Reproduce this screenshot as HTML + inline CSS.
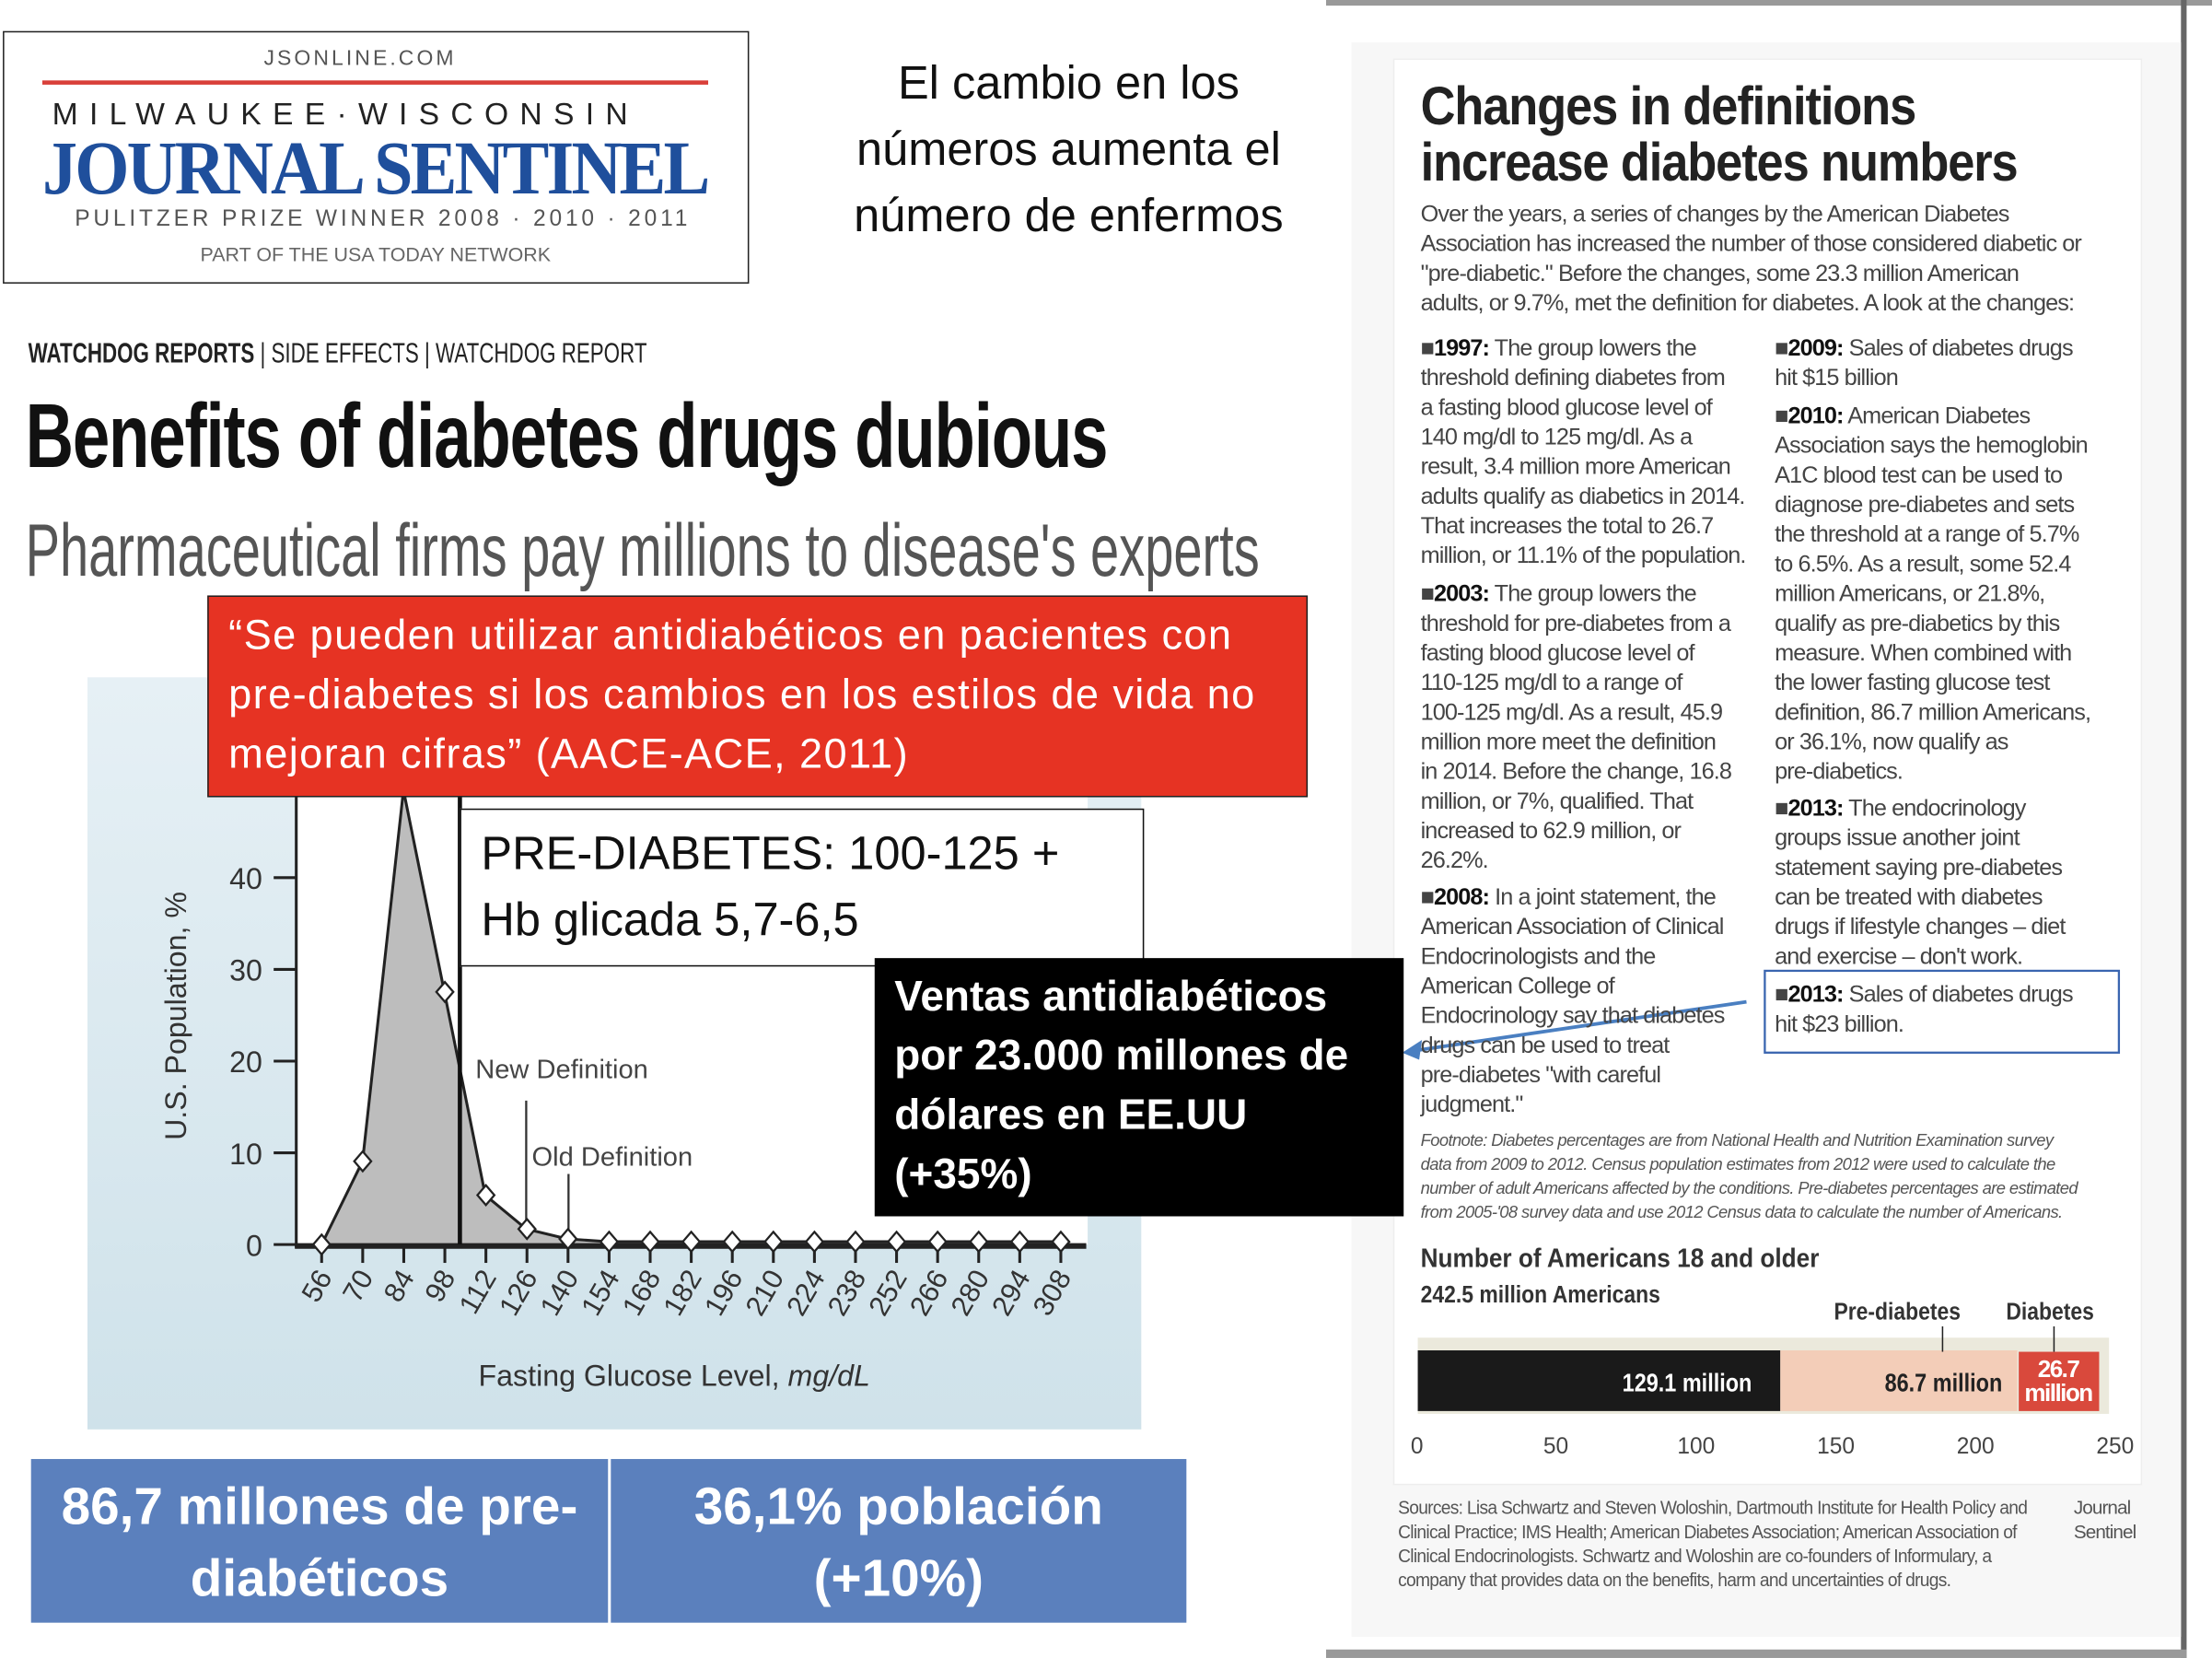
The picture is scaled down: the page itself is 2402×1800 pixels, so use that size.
<!DOCTYPE html>
<html><head><meta charset="utf-8"><style>
*{margin:0;padding:0;box-sizing:border-box}
html,body{width:2402px;height:1800px;overflow:hidden;background:#fff}
#w{position:absolute;left:0;top:0;width:1568px;height:1175px;transform:scale(1.53189);transform-origin:0 0;font-family:"Liberation Sans",sans-serif}
.a{position:absolute;white-space:nowrap}
.n{font-family:"Liberation Sans Narrow","Liberation Sans",sans-serif}
.rt{position:absolute;font-family:"Liberation Sans Narrow","Liberation Sans",sans-serif;font-size:16.5px;line-height:21px;color:#444;letter-spacing:-0.6px}
.rt b{color:#111}
.rt p{margin-top:5.5px}
.rt p:first-child{margin-top:0}
</style></head><body><div id="w">
<!-- logo -->
<div class="a" style="left:2px;top:22px;width:529px;height:179px;border:1px solid #222"></div>
<div class="a" style="left:187px;top:33px;font-size:15px;letter-spacing:2px;color:#555">JSONLINE.COM</div>
<div class="a" style="left:30px;top:57px;width:472px;height:3px;background:#d9403a"></div>
<div class="a" style="left:37px;top:68px;font-size:22px;letter-spacing:8px;color:#222">MILWAUKEE·WISCONSIN</div>
<div class="a" style="left:30px;top:88px;font-family:'Liberation Serif',serif;font-weight:bold;font-size:54px;color:#1f4f9c;letter-spacing:-2px;transform:scaleX(0.92);transform-origin:0 0">JOURNAL SENTINEL</div>
<div class="a" style="left:53px;top:147px;font-size:16px;letter-spacing:2.5px;color:#555">PULITZER PRIZE WINNER 2008 · 2010 · 2011</div>
<div class="a" style="left:142px;top:172px;font-size:14px;color:#666">PART OF THE USA TODAY NETWORK</div>
<!-- spanish title -->
<div class="a" style="left:585px;top:35px;width:345px;text-align:center;font-size:33px;line-height:47px;white-space:normal;color:#111">El cambio en los números aumenta el número de enfermos</div>
<!-- headline -->
<div class="a" style="left:20px;top:240px;font-size:20px;color:#222;transform:scaleX(0.73);transform-origin:0 0"><b>WATCHDOG REPORTS</b> | SIDE EFFECTS | WATCHDOG REPORT</div>
<div class="a" style="left:18px;top:272px;font-size:64px;font-weight:bold;color:#111;letter-spacing:-1px;transform:scaleX(0.74);transform-origin:0 0">Benefits of diabetes drugs dubious</div>
<div class="a" style="left:18px;top:360px;font-size:53px;color:#555;transform:scaleX(0.69);transform-origin:0 0">Pharmaceutical firms pay millions to disease's experts</div>
<!-- chart -->
<div class="a" style="left:62px;top:480px;width:747px;height:533px;background:linear-gradient(#e6f0f5,#cfe2ea)"></div>
<svg class="a" style="left:0;top:0" width="1568" height="1175">
<rect x="211" y="560" width="560" height="322" fill="#fff"/>
<polygon points="228,882 257,823 286,560 315,703 344,847 373,871 402,878 431,880 752,880 752,882" fill="#bdbdbd"/>
<polyline points="228,882 257,823 286,560 315,703 344,847 373,871 402,878 431,880 752,880" fill="none" stroke="#222" stroke-width="2"/>
<line x1="210" y1="560" x2="210" y2="884" stroke="#222" stroke-width="2"/>
<line x1="209" y1="883" x2="770" y2="883" stroke="#222" stroke-width="4"/>
<line x1="326" y1="560" x2="326" y2="882" stroke="#111" stroke-width="3"/>
<line x1="373" y1="780" x2="373" y2="870" stroke="#333" stroke-width="1.5"/>
<line x1="403" y1="832" x2="403" y2="878" stroke="#333" stroke-width="1.5"/>
<g stroke="#222" stroke-width="2">
<line x1="194" y1="882" x2="210" y2="882"/><line x1="194" y1="817" x2="210" y2="817"/><line x1="194" y1="752" x2="210" y2="752"/><line x1="194" y1="687" x2="210" y2="687"/><line x1="194" y1="622" x2="210" y2="622"/>
</g>
<g stroke="#222" stroke-width="2" id="tk"></g>
<g font-family="Liberation Sans,sans-serif" font-size="21" fill="#333" text-anchor="end">
<text x="186" y="890">0</text><text x="186" y="825">10</text><text x="186" y="760">20</text><text x="186" y="695">30</text><text x="186" y="630">40</text>
</g>
<text transform="translate(132,720) rotate(-90)" text-anchor="middle" font-family="Liberation Sans,sans-serif" font-size="21" fill="#333">U.S. Population, %</text>
<text x="337" y="764" font-family="Liberation Sans,sans-serif" font-size="19" fill="#444">New Definition</text>
<text x="377" y="826" font-family="Liberation Sans,sans-serif" font-size="19" fill="#444">Old Definition</text>
<text x="478" y="982" text-anchor="middle" font-family="Liberation Sans,sans-serif" font-size="21" fill="#333">Fasting Glucose Level, <tspan font-style="italic">mg/dL</tspan></text>
<g id="pts"></g>
<g id="lbl" font-family="Liberation Sans,sans-serif" font-size="20" fill="#333" text-anchor="end"></g>
<!-- right panel -->
<rect x="940" y="0" width="628" height="4" fill="#999"/>
<rect x="1546" y="0" width="4" height="1175" fill="#666"/>
<rect x="940" y="1169" width="610" height="6" fill="#999"/>
<rect x="958" y="30" width="588" height="1130" fill="#f7f7f7"/>
<rect x="988" y="42" width="530" height="1010" fill="#fff" stroke="#eee"/>
<rect x="1005" y="948" width="490" height="54" fill="#ebe9dc"/>
<rect x="1005" y="957" width="257" height="43" fill="#1a1a1a"/>
<rect x="1262" y="957" width="168" height="43" fill="#f3cdb8"/>
<rect x="1431" y="958" width="57" height="42" fill="#d9493c"/>
<line x1="1377" y1="940" x2="1377" y2="958" stroke="#222"/>
<line x1="1456" y1="940" x2="1456" y2="958" stroke="#222"/>
<rect x="1251" y="688" width="251" height="58" fill="none" stroke="#3a65b0" stroke-width="1.5"/>
<line x1="1238" y1="710" x2="1000" y2="745" stroke="#4a7fc1" stroke-width="2.5"/>
<polygon points="994,746 1008,737 1006,751" fill="#4a7fc1"/>
</svg>
<!-- boxes -->
<div class="a" style="left:147px;top:422px;width:780px;height:143px;background:#e63323;border:1px solid #222;color:#fff;font-size:29.5px;line-height:42px;padding:7px 14px;letter-spacing:0.9px;font-family:'Liberation Sans',sans-serif">“Se pueden utilizar antidiabéticos en pacientes con<br>pre-diabetes si los cambios en los estilos de vida no<br>mejoran cifras” (AACE-ACE, 2011)</div>
<div class="a" style="left:326px;top:573px;width:485px;height:112px;background:#fff;border:1.5px solid #111;color:#111;font-size:33px;line-height:47px;padding:7px 14px;white-space:normal">PRE-DIABETES: 100-125 + Hb glicada 5,7-6,5</div>
<div class="a" style="left:620px;top:679px;width:375px;height:183px;background:#000;color:#fff;font-weight:bold;font-size:30px;line-height:42px;padding:7px 14px;white-space:normal">Ventas antidiabéticos por 23.000 millones de dólares en EE.UU (+35%)</div>
<div class="a" style="left:22px;top:1034px;width:409px;height:116px;background:#5b80bd;color:#fff;font-weight:bold;font-size:37px;line-height:51px;text-align:center;padding-top:8px;white-space:normal">86,7 millones de pre-diabéticos</div>
<div class="a" style="left:433px;top:1034px;width:408px;height:116px;background:#5b80bd;color:#fff;font-weight:bold;font-size:37px;line-height:51px;text-align:center;padding-top:8px;white-space:normal">36,1% población (+10%)</div>
<!-- right panel text -->
<div class="a" style="left:1007px;top:56px;font-size:38px;line-height:40px;font-weight:bold;color:#222;letter-spacing:-0.8px;transform:scaleX(0.9);transform-origin:0 0">Changes in definitions<br>increase diabetes numbers</div>
<div class="rt" style="left:1007px;top:142px;width:500px">Over the years, a series of changes by the American Diabetes<br>Association has increased the number of those considered diabetic or<br>"pre-diabetic." Before the changes, some 23.3 million American<br>adults, or 9.7%, met the definition for diabetes. A look at the changes:</div>
<div class="rt" style="left:1007px;top:237px;width:245px"><p>■<b>1997:</b> The group lowers the<br>threshold defining diabetes from<br>a fasting blood glucose level of<br>140 mg/dl to 125 mg/dl. As a<br>result, 3.4 million more American<br>adults qualify as diabetics in 2014.<br>That increases the total to 26.7<br>million, or 11.1% of the population.</p><p>■<b>2003:</b> The group lowers the<br>threshold for pre-diabetes from a<br>fasting blood glucose level of<br>110-125 mg/dl to a range of<br>100-125 mg/dl. As a result, 45.9<br>million more meet the definition<br>in 2014. Before the change, 16.8<br>million, or 7%, qualified. That<br>increased to 62.9 million, or<br>26.2%.</p><p>■<b>2008:</b> In a joint statement, the<br>American Association of Clinical<br>Endocrinologists and the<br>American College of<br>Endocrinology say that diabetes<br>drugs can be used to treat<br>pre-diabetes "with careful<br>judgment."</p></div>
<div class="rt" style="left:1258px;top:237px;width:245px"><p>■<b>2009:</b> Sales of diabetes drugs<br>hit $15 billion</p><p>■<b>2010:</b> American Diabetes<br>Association says the hemoglobin<br>A1C blood test can be used to<br>diagnose pre-diabetes and sets<br>the threshold at a range of 5.7%<br>to 6.5%. As a result, some 52.4<br>million Americans, or 21.8%,<br>qualify as pre-diabetics by this<br>measure. When combined with<br>the lower fasting glucose test<br>definition, 86.7 million Americans,<br>or 36.1%, now qualify as<br>pre-diabetics.</p><p>■<b>2013:</b> The endocrinology<br>groups issue another joint<br>statement saying pre-diabetes<br>can be treated with diabetes<br>drugs if lifestyle changes – diet<br>and exercise – don't work.</p><p>■<b>2013:</b> Sales of diabetes drugs<br>hit $23 billion.</p></div>
<div class="rt" style="left:1007px;top:800px;font-size:12px;line-height:17px;font-style:italic;color:#555;letter-spacing:-0.4px">Footnote: Diabetes percentages are from National Health and Nutrition Examination survey<br>data from 2009 to 2012. Census population estimates from 2012 were used to calculate the<br>number of adult Americans affected by the conditions. Pre-diabetes percentages are estimated<br>from 2005-'08 survey data and use 2012 Census data to calculate the number of Americans.</div>
<div class="a" style="left:1007px;top:882px;font-size:19px;font-weight:bold;color:#333;transform:scaleX(0.9);transform-origin:0 0">Number of Americans 18 and older</div>
<div class="a" style="left:1007px;top:908px;font-size:17px;font-weight:bold;color:#333;transform:scaleX(0.88);transform-origin:0 0">242.5 million Americans</div>
<div class="a" style="left:1300px;top:920px;font-size:17px;font-weight:bold;color:#333;transform:scaleX(0.88);transform-origin:0 0">Pre-diabetes</div>
<div class="a" style="left:1422px;top:920px;font-size:17px;font-weight:bold;color:#333;transform:scaleX(0.88);transform-origin:0 0">Diabetes</div>
<div class="a" style="left:1150px;top:970px;font-size:18px;font-weight:bold;color:#fff;transform:scaleX(0.85);transform-origin:0 0">129.1 million</div>
<div class="a" style="left:1336px;top:970px;font-size:18px;font-weight:bold;color:#222;transform:scaleX(0.85);transform-origin:0 0">86.7 million</div>
<div class="a" style="left:1433px;top:962px;font-size:17px;line-height:17px;font-weight:bold;color:#fff;text-align:center;width:52px;letter-spacing:-1px">26.7<br>million</div>
<div class="a" style="left:1000px;top:1017px;font-size:16px;color:#444;width:510px"><span class="a" style="left:0">0</span><span class="a" style="left:94px">50</span><span class="a" style="left:189px">100</span><span class="a" style="left:288px">150</span><span class="a" style="left:387px">200</span><span class="a" style="left:486px">250</span></div>
<div class="rt" style="left:991px;top:1060px;font-size:13.5px;line-height:17px;color:#555;letter-spacing:-0.5px;transform:scaleX(0.93);transform-origin:0 0">Sources: Lisa Schwartz and Steven Woloshin, Dartmouth Institute for Health Policy and<br>Clinical Practice; IMS Health; American Diabetes Association; American Association of<br>Clinical Endocrinologists. Schwartz and Woloshin are co-founders of Informulary, a<br>company that provides data on the benefits, harm and uncertainties of drugs.</div>
<div class="rt" style="left:1470px;top:1060px;font-size:13.5px;line-height:17px;color:#555">Journal<br>Sentinel</div>
</div>
<script>
var ns="http://www.w3.org/2000/svg",ys=[882,823,560,703,847,871,878],tk=document.getElementById('tk'),pts=document.getElementById('pts'),lbl=document.getElementById('lbl');
for(var i=0;i<19;i++){var x=228+i*29.11,y=i<ys.length?ys[i]:880;
var l=document.createElementNS(ns,'line');l.setAttribute('x1',x);l.setAttribute('x2',x);l.setAttribute('y1',883);l.setAttribute('y2',895);tk.appendChild(l);
if(i!=2){var p=document.createElementNS(ns,'polygon');p.setAttribute('points',(x-6)+','+y+' '+x+','+(y-7)+' '+(x+6)+','+y+' '+x+','+(y+7));p.setAttribute('fill','#fff');p.setAttribute('stroke','#222');p.setAttribute('stroke-width','1.5');pts.appendChild(p);}
var t=document.createElementNS(ns,'text');t.setAttribute('transform','translate('+(x+8)+',905) rotate(-60)');t.textContent=56+i*14;lbl.appendChild(t);}
</script>
</body></html>
